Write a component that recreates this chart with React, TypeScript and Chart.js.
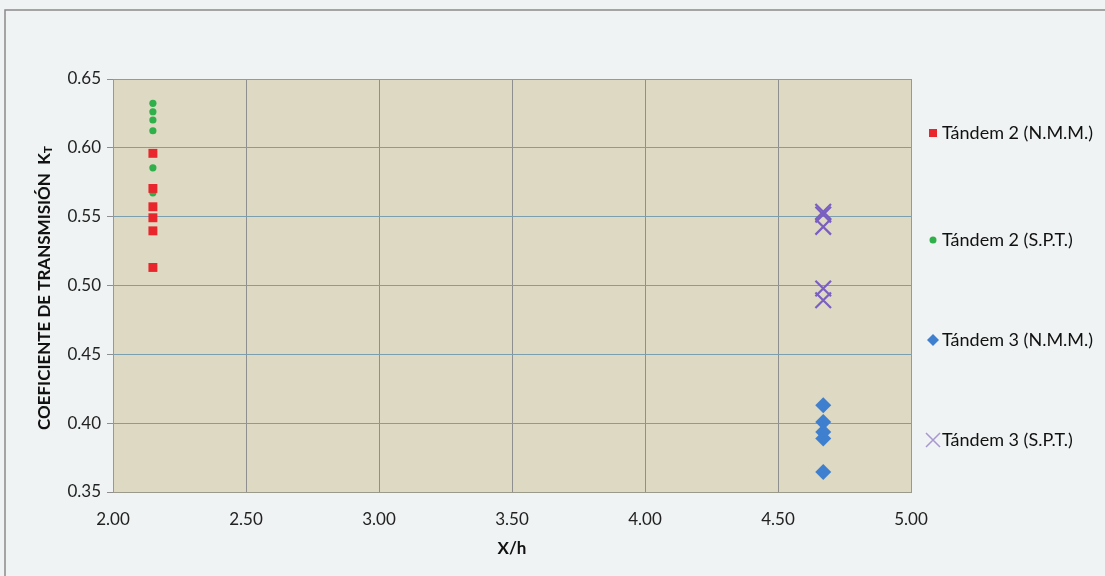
import React, { useEffect, useRef } from "react";
import { Chart, registerables } from "chart.js";

Chart.register(...registerables);

const xTicks = [2.0, 2.5, 3.0, 3.5, 4.0, 4.5, 5.0];
const yTicks = [0.35, 0.4, 0.45, 0.5, 0.55, 0.6, 0.65];

const t2X = 2.15;
const t3X = 4.67;
const t2NMM = [0.596, 0.5705, 0.5572, 0.5492, 0.5397, 0.5131];
const t2SPT = [0.6323, 0.6262, 0.6202, 0.6124, 0.5855, 0.5673];
const t3NMM = [0.413, 0.4008, 0.3936, 0.3888, 0.3645];
const t3SPT = [0.5535, 0.5515, 0.5426, 0.4978, 0.4893];

const seriesNames = ["Tándem 2 (N.M.M.)", "Tándem 2 (S.P.T.)", "Tándem 3 (N.M.M.)", "Tándem 3 (S.P.T.)"];

const FONT = "Lato, 'Open Sans', sans-serif";

export default function App() {
  const ref = useRef<HTMLCanvasElement>(null);
  useEffect(() => {
    const canvas = ref.current!;
    const toPts = (x: number, ys: number[]) => ys.map((y) => ({ x, y }));

    const bgPlugin = {
      id: "bgPlugin",
      beforeDraw(chart: any) {
        const { ctx, chartArea: a } = chart;
        ctx.save();
        ctx.fillStyle = "#f0f3f3";
        ctx.fillRect(0, 0, chart.width, chart.height);
        ctx.strokeStyle = "#8a8a8a";
        ctx.lineWidth = 1.5;
        ctx.beginPath();
        ctx.moveTo(5, chart.height);
        ctx.lineTo(5, 10);
        ctx.lineTo(chart.width, 10);
        ctx.stroke();
        ctx.fillStyle = "#ddd9c3";
        ctx.fillRect(a.left, a.top, a.right - a.left, a.bottom - a.top);
        ctx.restore();
      },
      afterDraw(chart: any) {
        const { ctx, chartArea: a } = chart;
        ctx.save();
        ctx.strokeStyle = "#9a9a8a";
        ctx.lineWidth = 1;
        ctx.strokeRect(a.left + 0.5, a.top + 0.5, a.right - a.left, a.bottom - a.top);
        // x title
        ctx.fillStyle = "#111";
        ctx.font = `bold 17px ${FONT}`;
        ctx.textAlign = "center";
        ctx.textBaseline = "middle";
        ctx.fillText("X/h", (a.left + a.right) / 2, 549);
        // y title
        ctx.translate(45, 288);
        ctx.rotate(-Math.PI / 2);
        ctx.font = `bold 17px ${FONT}`;
        const main = "COEFICIENTE DE TRANSMISIÓN  K";
        const w = ctx.measureText(main).width;
        ctx.font = `bold 12px ${FONT}`;
        const ws = ctx.measureText("T").width;
        const total = w + ws;
        ctx.font = `bold 17px ${FONT}`;
        ctx.textAlign = "left";
        ctx.fillText(main, -total / 2, 0);
        ctx.font = `bold 12px ${FONT}`;
        ctx.fillText("T", -total / 2 + w, 3);
        ctx.restore();

        // legend
        const ys = [133, 240, 340, 440];
        ctx.save();
        ctx.font = `18px ${FONT}`;
        ctx.textBaseline = "middle";
        ctx.fillStyle = "#111";
        ys.forEach((y, i) => {
          ctx.fillText(seriesNames[i], 942, y);
        });
        // markers
        ctx.fillStyle = "#e8262b";
        ctx.fillRect(929, 129, 8, 8);
        ctx.fillStyle = "#2fb04a";
        ctx.beginPath();
        ctx.arc(933, 240, 3.5, 0, Math.PI * 2);
        ctx.fill();
        ctx.fillStyle = "#3f7fcf";
        ctx.beginPath();
        ctx.moveTo(933, 334);
        ctx.lineTo(939, 340);
        ctx.lineTo(933, 346);
        ctx.lineTo(927, 340);
        ctx.closePath();
        ctx.fill();
        ctx.strokeStyle = "#a898d0";
        ctx.lineWidth = 1.5;
        ctx.beginPath();
        ctx.moveTo(926, 433);
        ctx.lineTo(940, 447);
        ctx.moveTo(940, 433);
        ctx.lineTo(926, 447);
        ctx.stroke();
        ctx.restore();
      },
    };

    const chart = new Chart(canvas, {
      type: "scatter",
      data: {
        datasets: [
          {
            label: seriesNames[0],
            data: toPts(t2X, t2NMM),
            pointStyle: "rect",
            pointRadius: 6.3,
            backgroundColor: "#e8262b",
            borderColor: "#e8262b",
            borderWidth: 0,
          },
          {
            label: seriesNames[1],
            data: toPts(t2X, t2SPT),
            pointStyle: "circle",
            pointRadius: 3.6,
            backgroundColor: "#2fb04a",
            borderColor: "#2fb04a",
            borderWidth: 0,
          },
          {
            label: seriesNames[2],
            data: toPts(t3X, t3NMM),
            pointStyle: "rectRot",
            pointRadius: 8,
            backgroundColor: "#3f7fcf",
            borderColor: "#3f7fcf",
            borderWidth: 0,
          },
          {
            label: seriesNames[3],
            data: toPts(t3X, t3SPT),
            pointStyle: "crossRot",
            pointRadius: 11,
            backgroundColor: "#7a5fc0",
            borderColor: "#7a5fc0",
            borderWidth: 2.2,
          },
        ],
      },
      options: {
        animation: false,
        responsive: false,
        layout: { padding: { top: 79, right: 194, bottom: 0, left: 0 } },
        plugins: { legend: { display: false }, tooltip: { enabled: false } },
        scales: {
          x: {
            type: "linear",
            min: 2,
            max: 5,
            afterFit: (s: any) => {
              s.height = 84;
            },
            afterBuildTicks: (s: any) => {
              s.ticks = xTicks.map((v) => ({ value: v }));
            },
            ticks: {
              color: "#222",
              font: { family: FONT, size: 17 },
              padding: 17,
              maxRotation: 0,
              callback: (v: any) => Number(v).toFixed(2),
            },
            grid: { color: "#8f8f8f", drawTicks: false, lineWidth: 1 },
            border: { display: false },
          },
          y: {
            type: "linear",
            min: 0.35,
            max: 0.65,
            afterFit: (s: any) => {
              s.width = 113;
            },
            afterBuildTicks: (s: any) => {
              s.ticks = yTicks.map((v) => ({ value: v }));
            },
            ticks: {
              color: "#222",
              font: { family: FONT, size: 17 },
              padding: 6,
              callback: (v: any) => Number(v).toFixed(2),
            },
            grid: { color: "#7b9fae", tickColor: "#8f8f8f", tickLength: 6, lineWidth: 1 },
            border: { display: false },
          },
        },
      },
      plugins: [bgPlugin],
    } as any);
    return () => chart.destroy();
  }, []);
  return (
    <div style={{ position: "fixed", left: 0, top: 0, width: 1105, height: 576 }}>
      <canvas ref={ref} width={1105} height={576} style={{ display: "block" }} />
    </div>
  );
}
